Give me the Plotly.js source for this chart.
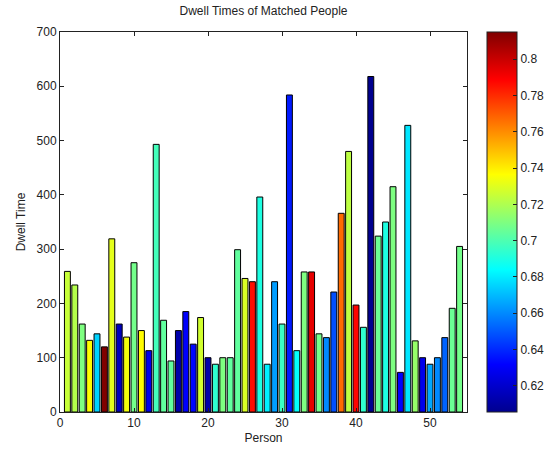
<!DOCTYPE html>
<html>
<head>
<meta charset="utf-8">
<script src="https://cdn.plot.ly/plotly-3.0.1.min.js"></script>
<style>html,body{margin:0;padding:0;background:#fff;}#chart{width:549px;height:451px;}</style>
</head>
<body>
<div id="chart"></div>
<script>
// Person index
const persons = [1,2,3,4,5,6,7,8,9,10,11,12,13,14,15,16,17,18,19,20,21,22,23,24,25,26,27,28,29,30,31,32,33,34,35,36,37,38,39,40,41,42,43,44,45,46,47,48,49,50,51,52,53,54];
// Dwell time per person
const dwellTimes = [259,234,162,132,144,120,319,162,138,275,150,113,493,169,94,150,185,125,174,100,88,100,100,299,246,240,396,88,240,162,584,113,258,258,144,137,221,366,480,197,156,618,324,350,415,73,528,131,100,88,100,137,191,305];
// Match score (colour value) per person
const matchScores = [0.725,0.721,0.710,0.737,0.675,0.815,0.731,0.616,0.734,0.708,0.737,0.627,0.698,0.704,0.704,0.612,0.631,0.633,0.727,0.612,0.694,0.710,0.704,0.704,0.729,0.786,0.690,0.681,0.664,0.696,0.637,0.685,0.710,0.794,0.708,0.660,0.648,0.767,0.723,0.788,0.694,0.6056,0.706,0.690,0.710,0.631,0.679,0.715,0.627,0.666,0.660,0.652,0.706,0.708];
// Colorbar ticks
const cbTicks = [0.62,0.64,0.66,0.68,0.70,0.72,0.74,0.76,0.78,0.80];
const cbTickText = ['0.62','0.64','0.66','0.68','0.7','0.72','0.74','0.76','0.78','0.8'];

const jet = [[0,'#00008F'],[0.125,'#0000FF'],[0.375,'#00FFFF'],[0.625,'#FFFF00'],[0.875,'#FF0000'],[1,'#800000']];

const font = {family:'Liberation Sans, Arial, sans-serif', size:12, color:'#222'};

const trace = {
  type:'bar',
  x: persons,
  y: dwellTimes,
  width: 0.8,
  marker:{
    color: matchScores,
    colorscale: jet,
    showscale: true,
    line:{color:'#000', width:1},
    colorbar:{
      x: 1.049, xanchor:'left', xref:'paper',
      y: 0.5, yanchor:'middle', len: 1, lenmode:'fraction',
      thickness: 30, thicknessmode:'pixels',
      xpad: 0, ypad: 0,
      outlinewidth: 1, outlinecolor:'#222',
      ticks:'inside', ticklen: 4, tickcolor:'#222',
      tickvals: cbTicks, ticktext: cbTickText,
      tickfont: font
    }
  },
  hoverinfo:'x+y'
};

const layout = {
  width:549, height:451,
  margin:{l:60, r:82, t:32, b:39, autoexpand:false},
  paper_bgcolor:'#fff', plot_bgcolor:'#fff',
  font: font,
  title:{text:'Dwell Times of Matched People', x:0.48, xanchor:'center', y:0.985, yanchor:'top', font:{family:font.family, size:12, color:'#222'}},
  showlegend:false,
  bargap:0.2,
  xaxis:{
    range:[0,55], tickvals:[0,10,20,30,40,50],
    ticks:'inside', ticklen:4, tickcolor:'#222',
    showline:true, linecolor:'#222', linewidth:1, mirror:'ticks',
    showgrid:false, zeroline:false,
    tickfont: font,
    title:{text:'Person', font:font, standoff:4}
  },
  yaxis:{
    range:[0,700], dtick:100,
    ticks:'inside', ticklen:4, tickcolor:'#222',
    showline:true, linecolor:'#222', linewidth:1, mirror:'ticks',
    showgrid:false, zeroline:false,
    tickfont: font,
    title:{text:'Dwell Time', font:font, standoff:8}
  }
};

Plotly.newPlot('chart',[trace],layout,{displayModeBar:false, staticPlot:true});
</script>
</body>
</html>
